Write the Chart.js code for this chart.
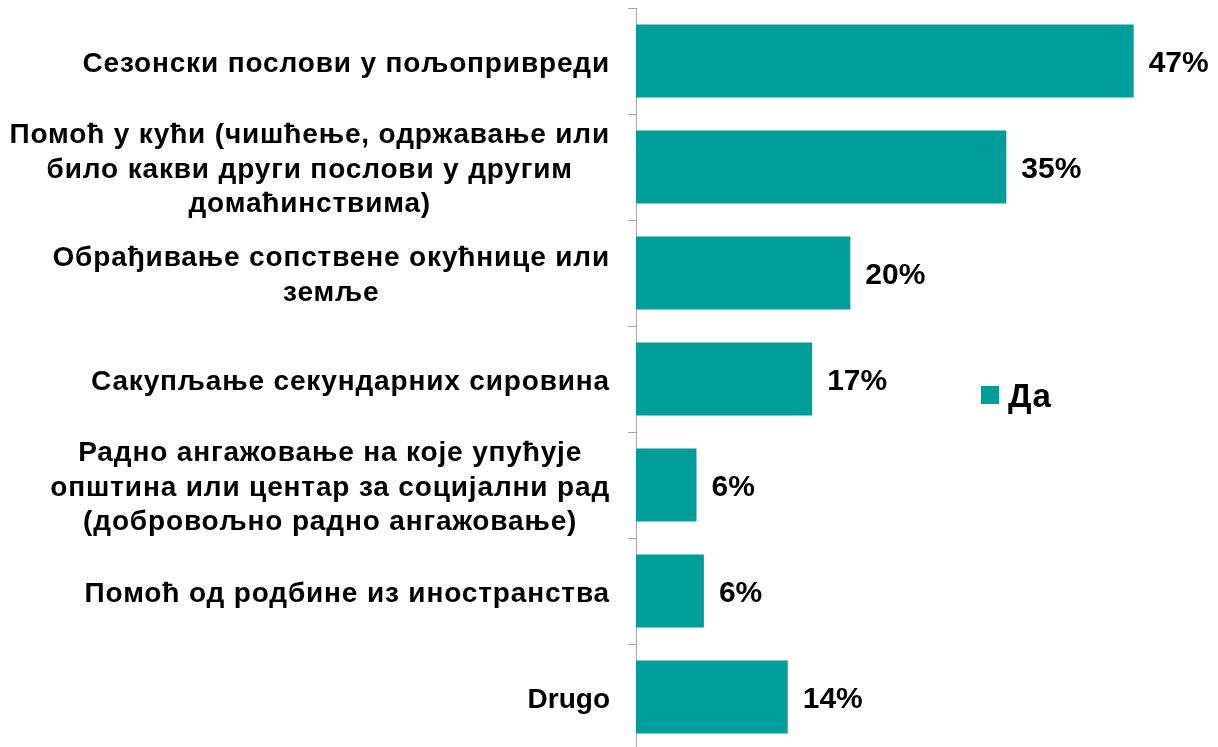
<!DOCTYPE html>
<html>
<head>
<meta charset="utf-8">
<script src="https://cdn.jsdelivr.net/npm/chart.js@4/dist/chart.umd.min.js"></script>
<style>
    html, body { margin: 0; padding: 0; background: #fff; overflow: hidden; }
    #wrap { position: relative; width: 1218px; height: 760px; }
    #legend-box { position: absolute; left: 981px; top: 386px; width: 18px; height: 18px; background: #009E9A; }
    #legend-text {
        position: absolute; left: 1008px; top: 379px;
        font: bold 33px "Liberation Sans", Arial, sans-serif; line-height: 33px;
        letter-spacing: 1px; color: #000;
    }
</style>
</head>
<body>
<div id="wrap">
    <canvas id="chart"></canvas>
    <div id="legend-box"></div>
    <div id="legend-text">Да</div>
</div>
<script>
// --- podaci ---
const categories = [
    ['Сезонски послови у пољопривреди'],
    ['Помоћ у кући (чишћење, одржавање или', 'било какви други послови у другим', 'домаћинствима)'],
    ['Обрађивање сопствене окућнице или', 'земље'],
    ['Сакупљање секундарних сировина'],
    ['Радно ангажовање на које упућује', 'општина или центар за социјални рад', '(добровољно радно ангажовање)'],
    ['Помоћ од родбине из иностранства'],
    ['Drugo']
];
const seriesName = 'Да';
const values = [46.9, 34.9, 20.2, 16.6, 5.7, 6.4, 14.3];
const valueLabels = ['47%', '35%', '20%', '17%', '6%', '6%', '14%'];

const TEAL = '#009E9A';
const AXIS = '#A6A6A6';
const FONT = '"Liberation Sans", Arial, sans-serif';

// crta nazive kategorija (centrirane linije, blok poravnat desno) i vrednosti na kraju traka
const labelsPlugin = {
    id: 'labelsPlugin',
    afterDatasetsDraw(chart) {
        const ctx = chart.ctx;
        const meta = chart.getDatasetMeta(0);
        ctx.save();
        ctx.fillStyle = '#000';
        ctx.textBaseline = 'middle';

        // vrednosti
        ctx.font = 'bold 30px ' + FONT;
        ctx.textAlign = 'left';
        meta.data.forEach((bar, i) => {
            ctx.fillText(valueLabels[i], bar.x + 15, bar.y + 3);
        });

        // kategorije
        ctx.font = 'bold 28px ' + FONT;
        ctx.textAlign = 'center';
        const rightEdge = 610;
        const lineH = 34.5;
        const cyr = /[\u0400-\u04FF]/;
        meta.data.forEach((bar, i) => {
            const lines = categories[i];
            const widths = lines.map(l => {
                ctx.letterSpacing = cyr.test(l) ? '0.85px' : '0px';
                return ctx.measureText(l).width;
            });
            const w = Math.max(...widths);
            const cx = rightEdge - w / 2;
            lines.forEach((line, j) => {
                ctx.letterSpacing = cyr.test(line) ? '0.85px' : '0px';
                ctx.fillText(line, cx, bar.y + 3 + (j - (lines.length - 1) / 2) * lineH);
            });
        });
        ctx.restore();
    }
};

new Chart(document.getElementById('chart'), {
    type: 'bar',
    data: {
        labels: categories.map(c => c.join(' ')),
        datasets: [{
            label: seriesName,
            data: values,
            backgroundColor: TEAL,
            borderWidth: 0,
            categoryPercentage: 1,
            barPercentage: 0.69
        }]
    },
    options: {
        indexAxis: 'y',
        responsive: true,
        maintainAspectRatio: false,
        animation: false,
        layout: { padding: { top: 8, right: 9, bottom: 10, left: 0 } },
        plugins: {
            legend: { display: false },
            tooltip: { enabled: false }
        },
        scales: {
            x: {
                display: false,
                min: 0,
                max: 54
            },
            y: {
                offset: true,
                grid: {
                    offset: true,
                    drawOnChartArea: false,
                    drawTicks: true,
                    tickLength: 8,
                    color: AXIS
                },
                border: { display: true, color: AXIS, width: 1 },
                ticks: { display: false },
                afterFit(scale) { scale.width = 636; }
            }
        }
    },
    plugins: [labelsPlugin]
});
</script>
</body>
</html>
